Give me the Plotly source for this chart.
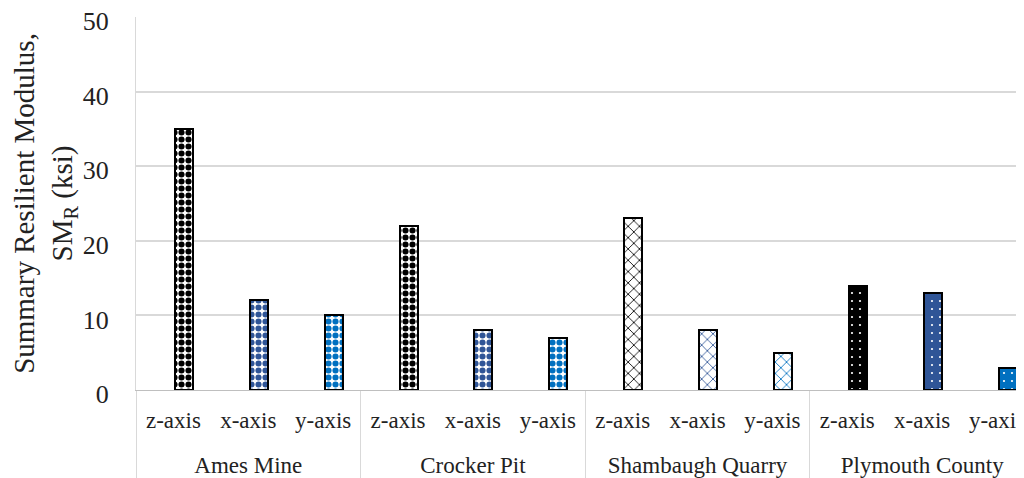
import plotly.graph_objects as go

sites = ["Ames Mine", "Crocker Pit", "Shambaugh Quarry", "Plymouth County"]
axes_ = ["z-axis", "x-axis", "y-axis"]
values = {
    "Ames Mine": [35, 12, 10],
    "Crocker Pit": [22, 8, 7],
    "Shambaugh Quarry": [23, 8, 5],
    "Plymouth County": [14, 13, 3],
}
y_ticks = [0, 10, 20, 30, 40, 50]

axis_colors = ["#000000", "#2F5597", "#0070C0"]
site_patterns = {
    "Ames Mine": dict(shape=".", bg="#FFFFFF", fg=None, size=7, solidity=0.6),
    "Crocker Pit": dict(shape=".", bg="#FFFFFF", fg=None, size=7, solidity=0.6),
    "Shambaugh Quarry": dict(shape="x", bg="#FFFFFF", fg=None, size=8, solidity=0.2),
    "Plymouth County": dict(shape=".", bg=None, fg="#FFFFFF", size=8, solidity=0.06),
}

FONT = "Liberation Serif, Times New Roman, serif"
fig = go.Figure()
for s in sites:
    p = site_patterns[s]
    for j, a in enumerate(axes_):
        c = axis_colors[j]
        fig.add_trace(go.Bar(
            x=[[s], [a + "<br><span style='font-size:8px'> </span>"]],
            y=[values[s][j]],
            width=0.24,
            offset=0.02,
            marker=dict(
                color=p["bg"] if p["bg"] else c,
                line=dict(color="#000000", width=2),
                pattern=dict(
                    shape=p["shape"],
                    fgcolor=p["fg"] if p["fg"] else c,
                    bgcolor=p["bg"] if p["bg"] else c,
                    size=p["size"],
                    solidity=p["solidity"],
                    fillmode="replace",
                ),
            ),
            showlegend=False,
            hovertemplate=s + " " + a + ": %{y}<extra></extra>",
        ))

# page body has an 8px margin: figure occupies 1016x470 of the 1024x478 window
fig.update_layout(
    width=1016, height=470,
    margin=dict(l=128, r=0, t=9, b=88, autoexpand=False),
    paper_bgcolor="white", plot_bgcolor="white",
    font=dict(family=FONT, size=24, color="#222222"),
    bargap=0,
)
fig.update_xaxes(
    type="multicategory",
    automargin=False,
    range=[-0.5, 11.36],
    showline=True, linecolor="#BFBFBF", linewidth=1,
    showdividers=True, dividercolor="#D9D9D9", dividerwidth=1,
    tickfont=dict(family=FONT, size=23, color="#222222"),
    ticklabelstandoff=9,
    ticks="",
    showgrid=False,
)
fig.update_yaxes(
    automargin=False,
    range=[0, 50], tickvals=y_ticks,
    showgrid=True, gridcolor="#D9D9D9", gridwidth=1.5,
    showline=True, linecolor="#D9D9D9", linewidth=1,
    zeroline=False,
    tickfont=dict(family=FONT, size=26, color="#222222"),
    ticklabelstandoff=21,
    ticklabelshift=4,
    ticklabeloverflow="allow",
    title=dict(text="Summary Resilient Modulus,<br>SM<sub>R</sub> (ksi)",
               font=dict(family=FONT, size=29, color="#222222"), standoff=18),
)
fig.write_html("out.html")
